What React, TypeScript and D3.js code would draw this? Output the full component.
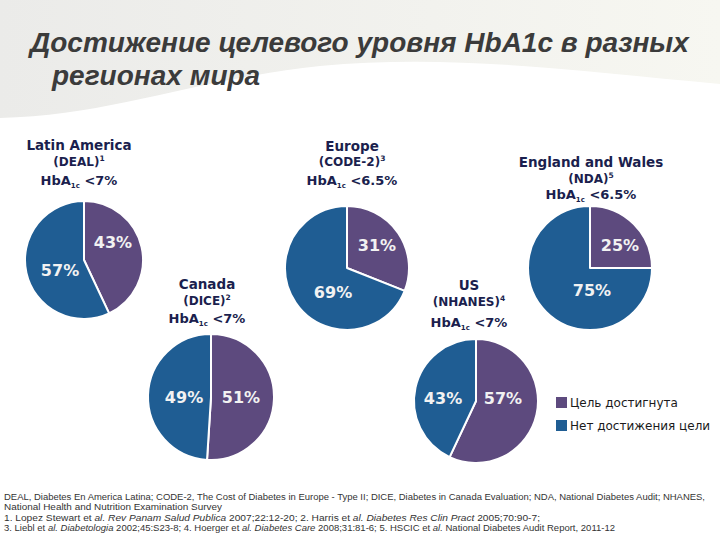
import React from "react";
import * as d3 from "d3";

// ---- data ----
const regions = ["Latin America", "Europe", "England and Wales", "Canada", "US"];
const studies = ["DEAL", "CODE-2", "NDA", "DICE", "NHANES"];
const studyRefs = ["1", "3", "5", "2", "4"];
const targets = ["<7%", "<6.5%", "<6.5%", "<7%", "<7%"];
const achieved = [43, 31, 25, 51, 57];
const notAchieved = [57, 69, 75, 49, 43];
const legendLabels = ["Цель достигнута", "Нет достижения цели"];
const titleLines = ["Достижение целевого уровня HbA1c в разных", "регионах мира"];

// ---- layout (positions / styles) ----
const W = 720;
const H = 540;
const COLORS = ["#5d4a7e", "#1f5d93"];
const HEAD = "#1b1f4e";
const pieLayout = [
  { cx: 84, cy: 260, r: 59, hx: 79, hy: [150, 166, 185], lab: [[29, -18], [-24, 10]] },
  { cx: 347, cy: 268, r: 62, hx: 352, hy: [151, 166, 185], lab: [[30, -23], [-14, 24]] },
  { cx: 590, cy: 268, r: 62, hx: 591, hy: [167, 183, 199], lab: [[30, -23], [2, 22]] },
  { cx: 211, cy: 397, r: 63, hx: 207, hy: [289, 305, 323], lab: [[30, 0], [-27, 0]] },
  { cx: 476, cy: 401, r: 62, hx: 469, hy: [290, 306, 327], lab: [[27, -3], [-33, -3]] },
];

const footnotes: { t: string; i?: boolean }[][] = [
  [{ t: "DEAL, Diabetes En America Latina; CODE-2, The Cost of Diabetes in Europe - Type II; DICE, Diabetes in Canada Evaluation; NDA, National Diabetes Audit; NHANES," }],
  [{ t: "National Health and Nutrition Examination Survey" }],
  [
    { t: "1. Lopez Stewart et " }, { t: "al. Rev Panam Salud Publica", i: true },
    { t: " 2007;22:12-20; 2. Harris et " }, { t: "al. Diabetes Res Clin Pract", i: true },
    { t: " 2005;70:90-7;" },
  ],
  [
    { t: "3. Liebl et " }, { t: "al. Diabetologia", i: true },
    { t: " 2002;45:S23-8; 4. Hoerger et " }, { t: "al. Diabetes Care", i: true },
    { t: " 2008;31:81-6; 5. HSCIC et " }, { t: "al.", i: true },
    { t: " National Diabetes Audit Report, 2011-12" },
  ],
];
const footLen = [701, 218, 536, 611];
const footY = [500, 510, 521, 531];

const pieGen = d3.pie<number>().sort(null).value((d) => d);

export default function App() {
  return (
    <svg
      width={W}
      height={H}
      viewBox={`0 0 ${W} ${H}`}
      style={{ position: "absolute", left: 0, top: 0, background: "#fff" }}
    >
      <defs>
        <linearGradient id="bg" x1="0" x2="1" y1="0" y2="0">
          <stop offset="0" stopColor="#ebebe9" />
          <stop offset="0.6" stopColor="#f2f2ee" />
          <stop offset="1" stopColor="#f7f7f1" />
        </linearGradient>
      </defs>
      <rect x={0} y={0} width={W} height={135} fill="url(#bg)" />
      <path
        d="M0,118 C110,116 190,80 320,66 C450,54 570,70 720,84 L720,140 L0,140 Z"
        fill="#ffffff"
      />

      {titleLines.map((t, i) => (
        <text
          key={i}
          x={i === 0 ? 30 : 52}
          y={i === 0 ? 52 : 85}
          fontFamily="'Liberation Sans', Arial, sans-serif"
          fontWeight="bold"
          fontStyle="italic"
          fontSize={28}
          fill="#3b3b3b"
        >
          {t}
        </text>
      ))}

      {regions.map((reg, i) => {
        const L = pieLayout[i];
        const arcs = pieGen([achieved[i], notAchieved[i]]);
        const arc = d3.arc<d3.PieArcDatum<number>>().innerRadius(0).outerRadius(L.r);
        const vals = [achieved[i], notAchieved[i]];
        return (
          <g key={reg}>
            <g fontFamily="'DejaVu Sans', Verdana, sans-serif" fontWeight="bold" fill={HEAD} textAnchor="middle">
              <text x={L.hx} y={L.hy[0]} fontSize={13.5}>{reg}</text>
              <text x={L.hx} y={L.hy[1]} fontSize={12}>
                ({studies[i]})
                <tspan fontSize={7.5} dy={-5}>{studyRefs[i]}</tspan>
              </text>
              <text x={L.hx} y={L.hy[2]} fontSize={13}>
                HbA
                <tspan fontSize={7} dy={3}>1c</tspan>
                <tspan dy={-3}> {targets[i]}</tspan>
              </text>
            </g>
            <g transform={`translate(${L.cx},${L.cy})`}>
              {arcs.map((a, j) => (
                <path key={j} d={arc(a) || ""} fill={COLORS[j]} stroke="#ffffff" strokeWidth={2} strokeLinejoin="round" />
              ))}
              {vals.map((v, j) => (
                <text
                  key={"l" + j}
                  x={L.lab[j][0]}
                  y={L.lab[j][1]}
                  dy="0.36em"
                  textAnchor="middle"
                  fontFamily="'DejaVu Sans', Verdana, sans-serif"
                  fontWeight="bold"
                  fontSize={16}
                  fill="#f2f2f2"
                >
                  {v}%
                </text>
              ))}
            </g>
          </g>
        );
      })}

      {legendLabels.map((t, i) => (
        <g key={t} transform={`translate(556,${397 + i * 23})`}>
          <rect x={0} y={0} width={11} height={11} fill={COLORS[i]} />
          <text x={14} y={10} fontFamily="'DejaVu Sans', Verdana, sans-serif" fontSize={12} fill="#1a1a1a">
            {t}
          </text>
        </g>
      ))}

      {footnotes.map((line, i) => (
        <text
          key={i}
          x={4}
          y={footY[i]}
          fontFamily="'Liberation Sans', Arial, sans-serif"
          fontSize={8.5}
          fill="#333"
          textLength={footLen[i]}
          lengthAdjust="spacingAndGlyphs"
        >
          {line.map((s, k) => (
            <tspan key={k} fontStyle={s.i ? "italic" : "normal"}>{s.t}</tspan>
          ))}
        </text>
      ))}
    </svg>
  );
}
